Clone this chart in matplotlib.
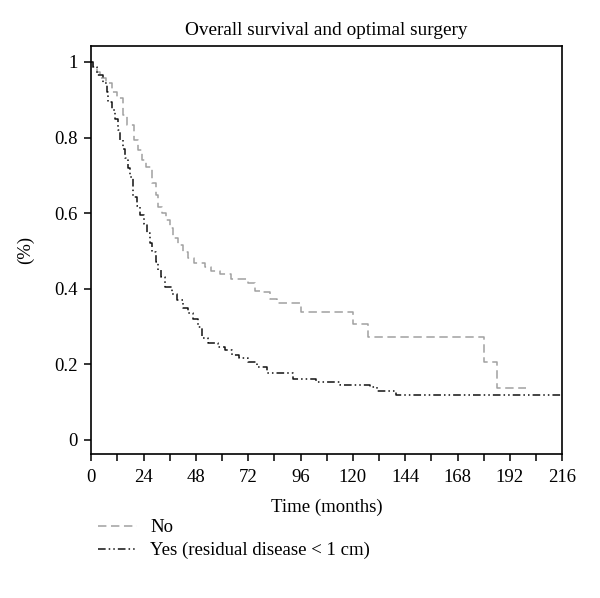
import matplotlib
matplotlib.use("Agg")
import matplotlib.pyplot as plt
from matplotlib.ticker import MultipleLocator, FixedLocator

plt.rcParams['font.family'] = ['Liberation Serif', 'DejaVu Serif']

# Kaplan-Meier step data
no_time = [0, 1, 2.5, 4, 7, 9.5, 12, 14.5, 16.5, 19.5, 21.5, 23.5, 25, 28, 29.5,
           30.5, 32.5, 34.5, 36, 37.5, 40, 42, 44.5, 47, 52, 55, 59, 64, 72, 75,
           79, 82, 85, 96, 120, 127, 180, 186, 199.5]
no_surv = [1.0, 0.987, 0.974, 0.957, 0.944, 0.92, 0.905, 0.86, 0.833, 0.794, 0.767,
           0.74, 0.722, 0.68, 0.648, 0.616, 0.60, 0.582, 0.56, 0.534, 0.516, 0.497,
           0.48, 0.468, 0.458, 0.447, 0.439, 0.426, 0.415, 0.394, 0.39, 0.373,
           0.362, 0.339, 0.307, 0.272, 0.206, 0.138, 0.138]

yes_time = [0, 1, 2.8, 5.5, 7.3, 7.8, 9.6, 11, 12.4, 13.3, 14.5, 15.6, 17, 17.9,
            19.3, 21, 22.5, 24, 25.7, 27, 28, 29.5, 30.7, 32, 34, 37, 39.4, 42,
            44.5, 46.5, 49, 51, 53.7, 58, 61.5, 64.7, 68, 72, 76, 80.7, 92.7, 103,
            114, 128, 131, 140, 216]
yes_surv = [1.0, 0.987, 0.966, 0.944, 0.92, 0.894, 0.873, 0.85, 0.82, 0.794, 0.77,
            0.746, 0.72, 0.696, 0.643, 0.62, 0.595, 0.57, 0.548, 0.52, 0.497, 0.47,
            0.45, 0.43, 0.405, 0.385, 0.37, 0.35, 0.336, 0.32, 0.3, 0.27, 0.256,
            0.246, 0.238, 0.224, 0.216, 0.207, 0.194, 0.177, 0.161, 0.154, 0.145,
            0.14, 0.13, 0.12, 0.12]

labels = ["No", "Yes (residual disease < 1 cm)"]
x_ticks = [0, 24, 48, 72, 96, 120, 144, 168, 192, 216]
y_ticks = [0, 0.2, 0.4, 0.6, 0.8, 1.0]
y_ticklabels = ["0", "0.2", "0.4", "0.6", "0.8", "1"]

fig = plt.figure(figsize=(6.0, 5.98), dpi=100)
ax = fig.add_axes([0.152, 0.241, 0.785, 0.682])

ax.plot(no_time, no_surv, drawstyle='steps-post', color='#a0a0a0', lw=1.1,
        dashes=(5.5, 3.0), label=labels[0])
ax.plot(yes_time, yes_surv, drawstyle='steps-post', color='#111111', lw=1.1,
        dashes=(5, 2, 1, 2, 1, 2), label=labels[1])

ax.set_xlim(0, 216)
ax.set_ylim(-0.037, 1.042)
ax.xaxis.set_major_locator(FixedLocator(x_ticks))
ax.xaxis.set_minor_locator(MultipleLocator(12))
ax.yaxis.set_major_locator(FixedLocator(y_ticks))
ax.set_yticklabels(y_ticklabels)
ax.tick_params(axis='both', which='both', direction='out', length=5, width=1.1,
               labelsize=13.5, color='black')
ax.tick_params(axis='x', pad=6)
ax.tick_params(axis='y', pad=5)
for s in ax.spines.values():
    s.set_linewidth(1.2)

ax.set_title("Overall survival and optimal surgery", fontsize=13.9, pad=8)
ax.set_xlabel("Time (months)", fontsize=13.5, labelpad=9)
ax.set_ylabel("(%)", fontsize=13.5, labelpad=14)

fig.legend(loc='upper left', bbox_to_anchor=(0.135, 0.160), frameon=False,
           fontsize=13.5, handlelength=2.1, handletextpad=0.7, labelspacing=0.3)

fig.savefig("out.png", dpi=100)
